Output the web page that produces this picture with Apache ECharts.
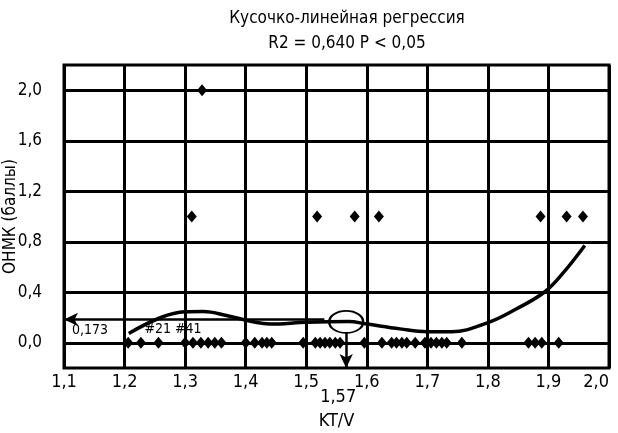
<!DOCTYPE html>
<html>
<head>
<meta charset="utf-8">
<script src="https://cdn.jsdelivr.net/npm/echarts@6/dist/echarts.min.js"></script>
<style>
  html, body { margin: 0; padding: 0; background: #fff; }
  #chart { width: 618px; height: 433px; }
</style>
</head>
<body>
<div id="chart"></div>
<script>
// наблюдения: KT/V и ОНМК (баллы)
const pointsX = [
  1.206, 1.227, 1.256, 1.300, 1.313, 1.326, 1.338, 1.349, 1.360,
  1.400, 1.415, 1.427, 1.435, 1.443,
  1.495, 1.515, 1.523, 1.531, 1.539, 1.548, 1.556,
  1.596, 1.625, 1.641, 1.649, 1.658, 1.666, 1.680, 1.696, 1.706, 1.715, 1.724, 1.732, 1.757,
  1.867, 1.878, 1.889, 1.917,
  1.311, 1.518, 1.580, 1.620, 1.887, 1.930, 1.957,
  1.328
]
const pointsY = [
  0, 0, 0, 0, 0, 0, 0, 0, 0,
  0, 0, 0, 0, 0,
  0, 0, 0, 0, 0, 0, 0,
  0, 0, 0, 0, 0, 0, 0, 0, 0, 0, 0, 0, 0,
  0, 0, 0, 0,
  1, 1, 1, 1, 1, 1, 1,
  2
]

// кривая регрессии
const curveX = [1.207, 1.26, 1.30, 1.33, 1.37, 1.41, 1.44, 1.50, 1.57, 1.60, 1.655, 1.70, 1.74, 1.80, 1.846, 1.893, 1.925, 1.96]
const curveY = [0.074, 0.20, 0.245, 0.248, 0.214, 0.168, 0.148, 0.162, 0.168, 0.148, 0.11, 0.088, 0.088, 0.16, 0.266, 0.40, 0.557, 0.77]

// линии сетки / подписи оси Y
const yGrid = [0, 0.4, 0.8, 1.2, 1.6, 2.0]

// порог
const cutX = 1.566
const cutY = 0.173

const FONT = "'Liberation Sans Narrow', 'DejaVu Sans Condensed', sans-serif"
const fmt = v => v.toFixed(1).replace('.', ',')

// текстовая метка без значка
function note (coord, text) {
  return {
    coord: coord,
    symbol: 'circle',
    symbolSize: 1,
    itemStyle: { color: 'rgba(0,0,0,0)' },
    label: { show: true, position: 'inside', formatter: text, fontFamily: FONT, fontSize: 14, color: '#000' }
  }
}

const chart = echarts.init(document.getElementById('chart'))

const option = {
  animation: false,
  textStyle: { fontFamily: FONT, color: '#000' },
  title: {
    text: 'Кусочко-линейная регрессия\nR2 = 0,640 P < 0,05',
    left: 342,
    textAlign: 'center',
    top: 1,
    textStyle: { fontFamily: FONT, fontSize: 17, fontWeight: 'normal', color: '#000', lineHeight: 25 }
  },
  grid: {
    left: 64, right: 9, top: 65, bottom: 65,
    outerBoundsMode: 'none',
    containLabel: false,
    show: true, borderColor: '#000', borderWidth: 3
  },
  xAxis: {
    type: 'value',
    min: 1.1, max: 2.0, interval: 0.1,
    name: 'KT/V',
    nameLocation: 'middle',
    nameGap: 44,
    nameTextStyle: { fontFamily: FONT, fontSize: 18, color: '#000' },
    axisLine: { show: false },
    axisTick: { show: false },
    axisLabel: { fontFamily: FONT, fontSize: 18, color: '#000', margin: 5, formatter: fmt, alignMaxLabel: 'right' },
    splitLine: { show: true, lineStyle: { color: '#000', width: 3 } }
  },
  yAxis: {
    type: 'value',
    min: -0.2, max: 2.2, interval: 0.2,
    name: 'ОНМК (баллы)',
    nameLocation: 'middle',
    nameGap: 45,
    nameMoveOverlap: false,
    nameTextStyle: { fontFamily: FONT, fontSize: 17, color: '#000' },
    axisLine: { show: false },
    axisTick: { show: false },
    axisLabel: {
      fontFamily: FONT, fontSize: 17, color: '#000', margin: 22,
      formatter: function (v) {
        const k = Math.round(v * 10)
        return (k >= 0 && k % 4 === 0) ? fmt(v) : ''
      }
    },
    splitLine: { show: false }
  },
  series: [
    {
      // горизонтальные линии сетки
      type: 'line',
      data: [],
      silent: true,
      markLine: {
        silent: true,
        symbol: 'none',
        label: { show: false },
        lineStyle: { color: '#000', width: 3, type: 'solid' },
        data: yGrid.map(v => ({ yAxis: v }))
      }
    },
    {
      name: 'ОНМК',
      type: 'scatter',
      symbol: 'diamond',
      symbolSize: [10, 12],
      itemStyle: { color: '#000', opacity: 1 },
      data: pointsX.map((x, i) => [x, pointsY[i]]),
      z: 5
    },
    {
      name: 'регрессия',
      type: 'line',
      smooth: 0.4,
      showSymbol: false,
      lineStyle: { color: '#000', width: 3.5 },
      data: curveX.map((x, i) => [x, curveY[i]]),
      z: 4,
      markLine: {
        silent: true,
        symbol: ['none', 'arrow'],
        symbolSize: [10, 14],
        lineStyle: { color: '#000', width: 2.5, type: 'solid' },
        data: [
          [
            { coord: [1.53, 0.185], label: { show: false } },
            { coord: [1.1, 0.185] }
          ],
          [
            { coord: [cutX, 0.08] },
            { coord: [cutX, -0.2], label: { show: true, position: 'end', formatter: '1,57', distance: 20, offset: [-8, 0], fontFamily: FONT, fontSize: 18, color: '#000' } }
          ]
        ],
        label: { show: false }
      },
      markPoint: {
        silent: true,
        data: [
          {
            coord: [cutX, 0.165],
            symbol: 'circle',
            symbolSize: [34, 22],
            itemStyle: { color: 'rgba(0,0,0,0)', borderColor: '#000', borderWidth: 2 },
            label: { show: false }
          },
          note([1.143, 0.098], String(cutY).replace('.', ',')),
          note([1.28, 0.105], '#21 #41')
        ]
      }
    }
  ]
}

chart.setOption(option)
</script>
</body>
</html>
